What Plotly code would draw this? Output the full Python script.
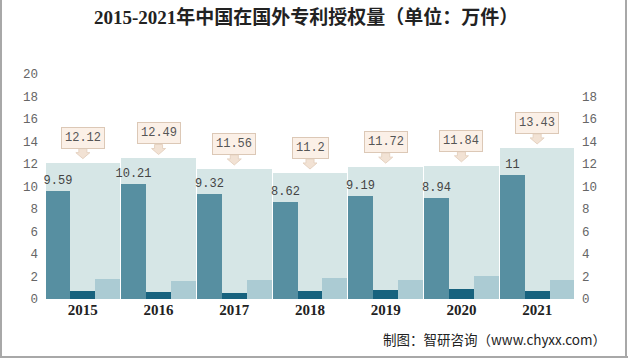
import plotly.graph_objects as go

years = ["2015", "2016", "2017", "2018", "2019", "2020", "2021"]
total = [12.12, 12.49, 11.56, 11.2, 11.72, 11.84, 13.43]
invention = [9.59, 10.21, 9.32, 8.62, 9.19, 8.94, 11]
utility = [0.72, 0.63, 0.55, 0.72, 0.82, 0.90, 0.72]
design = [1.80, 1.63, 1.68, 1.90, 1.68, 2.04, 1.72]
left_ticks = [0, 2, 4, 6, 8, 10, 12, 14, 16, 18, 20]
right_ticks = [0, 2, 4, 6, 8, 10, 12, 14, 16, 18]

xs = list(range(len(years)))
W = 0.985
w3 = W / 3

fig = go.Figure()
fig.add_trace(go.Bar(x=xs, y=total, width=W, offset=-W / 2,
                     marker=dict(color="#d6e6e6", line=dict(width=0)),
                     showlegend=False, hoverinfo="skip"))
fig.add_trace(go.Bar(x=xs, y=invention, width=w3, offset=-W / 2,
                     marker=dict(color="#578fa1", line=dict(width=0)),
                     text=[f"{v:g}" for v in invention], textposition="outside",
                     constraintext="none",
                     textfont=dict(family="Liberation Mono", size=12, color="#444"),
                     cliponaxis=False, showlegend=False))
fig.add_trace(go.Bar(x=xs, y=utility, width=w3, offset=-W / 2 + w3,
                     marker=dict(color="#17627e", line=dict(width=0)),
                     showlegend=False))
fig.add_trace(go.Bar(x=xs, y=design, width=w3, offset=-W / 2 + 2 * w3,
                     marker=dict(color="#abcbd3", line=dict(width=0)),
                     showlegend=False))
# invisible trace for right axis
fig.add_trace(go.Scatter(x=xs, y=total, yaxis="y2", mode="markers",
                         marker=dict(opacity=0), showlegend=False, hoverinfo="skip"))

annotations = []
shapes = []
for i, t in enumerate(total):
    annotations.append(dict(
        x=i, y=t, xref="x", yref="y", text=f"{t:g}", showarrow=False,
        yshift=25, xanchor="center", yanchor="middle",
        bgcolor="#fbf0e7", bordercolor="#dcc8b6",
        borderwidth=1, borderpad=3,
        font=dict(family="Liberation Mono", size=12, color="#555")))
    shapes.append(dict(
        type="path", xref="x", yref="y", xsizemode="pixel", ysizemode="pixel",
        xanchor=i, yanchor=t,
        path="M -4,14 L 4,14 L 4,10 L 7,10 L 0,4 L -7,10 L -4,10 Z",
        fillcolor="#f2e2d4", line=dict(color="#e6d3c2", width=1)))

annotations.append(dict(
    text="2015-2021年中国在国外专利授权量（单位：万件）", xref="paper", yref="paper",
    x=(306 - 45) / 530, y=(299 - 17) / 225, xanchor="center", yanchor="middle",
    showarrow=False,
    font=dict(family="Liberation Serif, Noto Sans CJK SC", size=19, color="#222", weight="bold")))
annotations.append(dict(
    text="制图：智研咨询（www.chyxx.com）", xref="paper", yref="paper",
    x=(608 - 45) / 530, y=(299 - 339) / 225, xanchor="right", yanchor="middle",
    showarrow=False, font=dict(family="Noto Sans CJK SC", size=13.5, color="#222")))

shapes += [
    dict(type="line", xref="paper", yref="paper", x0=(1 - 45) / 530, x1=(1 - 45) / 530,
         y0=(299 - 0) / 225, y1=(299 - 357) / 225, line=dict(color="#a8a8a8", width=2)),
    dict(type="line", xref="paper", yref="paper", x0=(626 - 45) / 530, x1=(626 - 45) / 530,
         y0=(299 - 0) / 225, y1=(299 - 357) / 225, line=dict(color="#a8a8a8", width=2)),
    dict(type="line", xref="paper", yref="paper", x0=(0 - 45) / 530, x1=(628 - 45) / 530,
         y0=(299 - 357) / 225, y1=(299 - 357) / 225, line=dict(color="#a8a8a8", width=2)),
]

fig.update_layout(
    width=628, height=358,
    margin=dict(l=45, r=53, t=74, b=59, autoexpand=False),
    paper_bgcolor="white", plot_bgcolor="white",
    barmode="overlay", bargap=0,
    xaxis=dict(range=[-0.5, 6.5], tickvals=xs, ticktext=[f"<b>{y}</b>" for y in years],
               tickfont=dict(family="Liberation Serif", size=15, color="#222"),
               showgrid=False, zeroline=False, showline=False, ticks="",
               automargin=False, fixedrange=True),
    yaxis=dict(range=[0, 20], tickvals=left_ticks, showgrid=False, zeroline=False,
               tickfont=dict(family="Liberation Mono", size=12.5, color="#666"),
               ticklabelstandoff=6, showline=False, automargin=False),
    yaxis2=dict(range=[0, 20], tickvals=right_ticks, overlaying="y", side="right",
                showgrid=False, zeroline=False,
                tickfont=dict(family="Liberation Mono", size=12.5, color="#666"),
                ticklabelstandoff=6, showline=False, automargin=False),
    annotations=annotations, shapes=shapes,
)

fig.write_html("out.html", config={"displayModeBar": False},
               post_script="document.body.style.margin='0';")
